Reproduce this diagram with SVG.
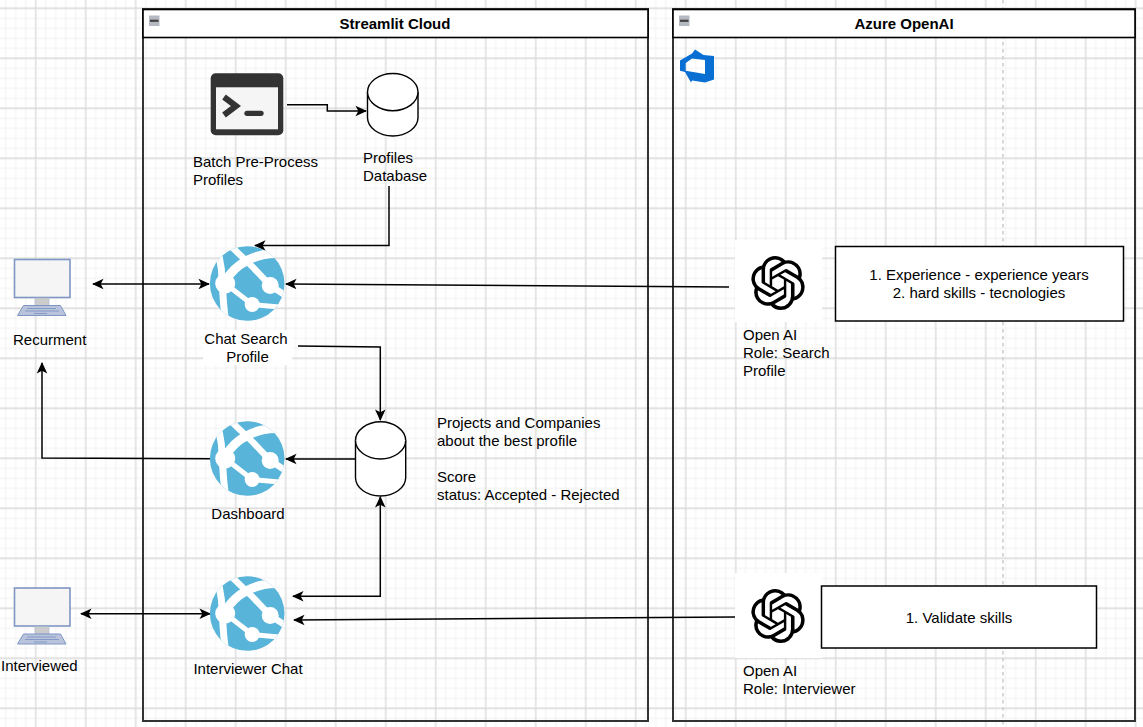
<svg xmlns="http://www.w3.org/2000/svg" width="1143" height="727" viewBox="0 0 1143 727">
<style>
text{font-family:"Liberation Sans",Arial,sans-serif;font-size:15px;fill:#000}
.b{font-weight:bold}
.lane{fill:none;stroke:#333;stroke-width:2}
.hd{fill:#fff;stroke:#000;stroke-width:1.6}
.c{fill:none;stroke:#000;stroke-width:1.5}
.box{fill:#fff;stroke:#000;stroke-width:1.5}
.cyl{fill:#fff;stroke:#000;stroke-width:1.4}
</style>
<defs>
<pattern id="g" x="35.7" y="8.3" width="50" height="50" patternUnits="userSpaceOnUse">
<path d="M10 0V50M20 0V50M30 0V50M40 0V50M0 10H50M0 20H50M0 30H50M0 40H50" fill="none" stroke="#f2f2f2" stroke-width="1.100"/>
<path d="M0 0V50M50 0V50M0 0H50M0 50H50" fill="none" stroke="#d9d9d9" stroke-width="1.300"/>
</pattern>
<marker id="a" viewBox="0 0 12 12" refX="11" refY="6" markerWidth="11.500" markerHeight="11.500" markerUnits="userSpaceOnUse" orient="auto-start-reverse">
<path d="M0 0.500L12 6L0 11.500L3 6Z" fill="#000"/>
</marker>
<clipPath id="cc"><circle r="37.3"/></clipPath>
<g id="az">
<circle r="37.3" fill="#59b4d9"/>
<g clip-path="url(#cc)" fill="none" stroke="#fff">
<path d="M-16 -37L6 -16L23 2L40 13" stroke-width="6.500"/>
<path d="M29 -30C8 -30 -12 -20 -22 -2" stroke-width="9"/>
<path d="M-28 -27C-25 -14 -25 -8 -25 0C-24 12 -24 22 -22 34" stroke-width="7"/>
<path d="M-22 0L5 21L38 24" stroke-width="5"/>
<circle cx="-22" cy="0" r="10" fill="#fff" stroke="none"/>
<circle cx="23" cy="2" r="8.500" fill="#fff" stroke="none"/>
<circle cx="5" cy="21" r="7.500" fill="#fff" stroke="none"/>
</g>
</g>
<g id="pc">
<rect x="14.500" y="259.500" width="55.500" height="38" fill="#f5f5f5" stroke="#7f96c4" stroke-width="1.600"/>
<rect x="35" y="298" width="14" height="7.500" fill="#ccc" stroke="#a9b6d3" stroke-width="0.600"/>
<path d="M23.500 305.500H60.500L66 315.500H17.500Z" fill="#b9c3dc" stroke="#7f96c4" stroke-width="1"/>
<path d="M27 308.500H56M25 311H59M34 313.500H47" fill="none" stroke="#7f96c4" stroke-width="0.900"/>
</g>
<path id="oa" d="M22.2819 9.8211a5.9847 5.9847 0 0 0-.5157-4.9108 6.0462 6.0462 0 0 0-6.5098-2.9A6.0651 6.0651 0 0 0 4.9807 4.1818a5.9847 5.9847 0 0 0-3.9977 2.9 6.0462 6.0462 0 0 0 .7427 7.0966 5.98 5.98 0 0 0 .511 4.9107 6.051 6.051 0 0 0 6.5146 2.9001A5.9847 5.9847 0 0 0 13.2599 24a6.0557 6.0557 0 0 0 5.7718-4.2058 5.9894 5.9894 0 0 0 3.9977-2.9001 6.0557 6.0557 0 0 0-.7475-7.0729zm-9.022 12.6081a4.4755 4.4755 0 0 1-2.8764-1.0408l.1419-.0804 4.7783-2.7582a.7948.7948 0 0 0 .3927-.6813v-6.7369l2.02 1.1686a.071.071 0 0 1 .038.052v5.5826a4.504 4.504 0 0 1-4.4945 4.4944zm-9.6607-4.1254a4.4708 4.4708 0 0 1-.5346-3.0137l.142.0852 4.783 2.7582a.7712.7712 0 0 0 .7806 0l5.8428-3.3685v2.3324a.0804.0804 0 0 1-.0332.0615L9.74 19.9502a4.4992 4.4992 0 0 1-6.1408-1.6464zM2.3408 7.8956a4.485 4.485 0 0 1 2.3655-1.9728V11.6a.7664.7664 0 0 0 .3879.6765l5.8144 3.3543-2.0201 1.1685a.0757.0757 0 0 1-.071 0l-4.8303-2.7865A4.504 4.504 0 0 1 2.3408 7.872zm16.5963 3.8558L13.1038 8.364 15.1192 7.2a.0757.0757 0 0 1 .071 0l4.8303 2.7913a4.4944 4.4944 0 0 1-.6765 8.1042v-5.6772a.79.79 0 0 0-.407-.667zm2.0107-3.0231l-.142-.0852-4.7735-2.7818a.7759.7759 0 0 0-.7854 0L9.409 9.2297V6.8974a.0662.0662 0 0 1 .0284-.0615l4.8303-2.7866a4.4992 4.4992 0 0 1 6.6802 4.66zM8.3065 12.863l-2.02-1.1638a.0804.0804 0 0 1-.038-.0567V6.0742a4.4992 4.4992 0 0 1 7.3757-3.4537l-.142.0805L8.704 5.459a.7948.7948 0 0 0-.3927.6813zm1.0976-2.3654l2.602-1.4998 2.6069 1.4998v2.9994l-2.5974 1.4997-2.6067-1.4997Z" fill="#000"/>
<g id="tg">
<rect width="10.500" height="10.500" fill="#b4b9c2"/>
<rect x="1" y="4.200" width="8.500" height="2.200" fill="#444"/>
</g>
</defs>
<rect width="1143" height="727" fill="#fff"/>
<rect width="1143" height="727" fill="url(#g)"/>
<path d="M1003 0V727" stroke="#cfcfcf" stroke-width="1.600" stroke-dasharray="3.500 3.500" fill="none"/>

<g id="lane-streamlit">
<rect class="lane" x="143" y="9" width="505" height="712"/>
<rect class="hd" x="143" y="9.500" width="505" height="28"/>
<use href="#tg" x="149" y="15.500"/>
<text class="b" x="395" y="28.500" text-anchor="middle">Streamlit Cloud</text>
</g>
<g id="lane-azure">
<rect class="lane" x="673" y="9" width="462" height="712"/>
<rect class="hd" x="673" y="9.500" width="462" height="28"/>
<use href="#tg" x="679" y="15.500"/>
<text class="b" x="904" y="28.500" text-anchor="middle">Azure OpenAI</text>
</g>

<g id="connectors">
<path class="c" d="M287 104.700H327.300V111H366" marker-end="url(#a)"/>
<path class="c" d="M389 186V245.500H255" marker-end="url(#a)"/>
<path class="c" d="M93 284H209" marker-start="url(#a)" marker-end="url(#a)"/>
<path class="c" d="M729 287L286 284" marker-end="url(#a)"/>
<path class="c" d="M298 346L380.300 347V420" marker-end="url(#a)"/>
<path class="c" d="M355 459H286" marker-end="url(#a)"/>
<path class="c" d="M210 458.700L42 458V363" marker-end="url(#a)"/>
<path class="c" d="M293 596.300H380.300V497" marker-start="url(#a)" marker-end="url(#a)"/>
<path class="c" d="M81 613.700H210" marker-start="url(#a)" marker-end="url(#a)"/>
<path class="c" d="M735 617L294 620" marker-end="url(#a)"/>
</g>

<g id="azure-devops">
<path d="M695 49.500L703.500 55L714 56V79.500L705 82.500L692 80.500L691 82.500L685 72L680 70.700V60.500L692 53.500ZM685.700 70.700L705 74V60L692 58.500L685.700 63Z" fill="#0a6fd2" fill-rule="evenodd"/>
</g>

<g id="batch">
<rect x="210.700" y="73.300" width="72.600" height="62" rx="5" fill="#333"/>
<rect x="216" y="87.300" width="62" height="42" fill="#f5f5f5"/>
<path d="M224 97L236 106L224 115" fill="none" stroke="#333" stroke-width="6"/>
<path d="M247 113.300H261" fill="none" stroke="#333" stroke-width="5.300" stroke-linecap="round"/>
<text><tspan x="193" y="167">Batch Pre-Process</tspan><tspan x="193" y="185">Profiles</tspan></text>
</g>

<g id="profiles-db">
<path class="cyl" d="M367.500 92C367.500 82 378.800 73.500 392.800 73.500S418 82 418 92V117.500C418 127.500 406.800 136 392.800 136S367.500 127.500 367.500 117.500Z"/>
<path class="cyl" d="M367.500 92C367.500 102 378.800 110.700 392.800 110.700S418 102 418 92" fill="none"/>
<text><tspan x="363" y="163">Profiles</tspan><tspan x="363" y="181">Database</tspan></text>
</g>

<g id="chat-search">
<use href="#az" x="247.200" y="283.500"/>
<rect x="203" y="330" width="89" height="35" fill="#fff"/>
<text text-anchor="middle"><tspan x="246" y="344">Chat Search</tspan><tspan x="247.500" y="362">Profile</tspan></text>
</g>

<g id="dashboard">
<use href="#az" x="247.200" y="458.500"/>
<text x="248" y="519" text-anchor="middle">Dashboard</text>
</g>

<g id="scores-db">
<path class="cyl" d="M355.500 440.500C355.500 430.500 366.800 421.700 380.500 421.700S405.700 430.500 405.700 440.500V477.500C405.700 487.500 394.500 496 380.500 496S355.500 487.500 355.500 477.500Z"/>
<path class="cyl" d="M355.500 440.500C355.500 450.500 366.800 459 380.500 459S405.700 450.500 405.700 440.500" fill="none"/>
<text><tspan x="437" y="428">Projects and Companies</tspan><tspan x="437" y="446">about the best profile</tspan><tspan x="437" y="482">Score</tspan><tspan x="437" y="500">status: Accepted - Rejected</tspan></text>
</g>

<g id="interviewer-chat">
<use href="#az" x="247.200" y="613.500"/>
<text x="248" y="674" text-anchor="middle">Interviewer Chat</text>
</g>

<g id="recurment">
<use href="#pc"/>
<text x="13" y="345">Recurment</text>
</g>

<g id="interviewed">
<use href="#pc" y="328.500"/>
<text x="1" y="671">Interviewed</text>
</g>

<g id="openai-search">
<rect x="735" y="240" width="87" height="82" fill="#fff"/>
<use href="#oa" transform="translate(751 256) scale(2.25)"/>
<text><tspan x="743" y="340">Open AI</tspan><tspan x="743" y="358">Role: Search</tspan><tspan x="743" y="376">Profile</tspan></text>
</g>

<g id="openai-interviewer">
<rect x="735" y="573" width="87" height="85" fill="#fff"/>
<use href="#oa" transform="translate(751 589) scale(2.25)"/>
<text><tspan x="743" y="676">Open AI</tspan><tspan x="743" y="694">Role: Interviewer</tspan></text>
</g>

<g id="search-note">
<rect class="box" x="835.500" y="246.500" width="288" height="74.500"/>
<text text-anchor="middle"><tspan x="979" y="280">1. Experience - experience years</tspan><tspan x="979" y="298">2. hard skills - tecnologies</tspan></text>
</g>

<g id="interviewer-note">
<rect class="box" x="821.500" y="586" width="275" height="62"/>
<text x="959" y="623" text-anchor="middle">1. Validate skills</text>
</g>
</svg>
